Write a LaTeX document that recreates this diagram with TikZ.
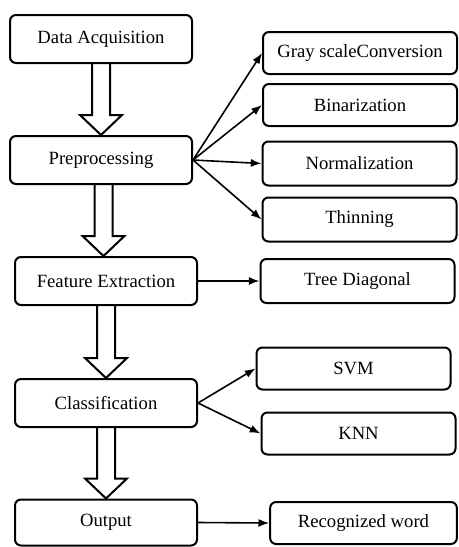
\documentclass[tikz,border=0pt]{standalone}
\usepackage{fontspec}
\setmainfont{Liberation Serif}
\usetikzlibrary{positioning,arrows.meta,calc}

% hollow block arrow from one step to the next
\newcommand{\fatarrow}[2]{%
  \draw[fatline] let \p1=(#1.south), \p2=(#2.north), \n1={(\x1+\x2)/2} in
    (\n1-6.75pt,\y1) -- (\n1-6.75pt,\y2+15pt) -- (\n1-15.75pt,\y2+15pt) -- (\n1,\y2)
    -- (\n1+15.75pt,\y2+15pt) -- (\n1+6.75pt,\y2+15pt) -- (\n1+6.75pt,\y1);}

\begin{document}
\begin{tikzpicture}[x=0.75pt,y=-0.75pt,
stepbox/.style={rectangle, draw=black, rounded corners=4.5pt, line width=1.5pt, minimum width=136.5pt, minimum height=36pt, inner sep=0pt, font=\fontsize{14}{16}\selectfont},
subbox/.style={stepbox, minimum width=145.5pt, minimum height=31.5pt},
fatline/.style={line width=1.5pt, line join=miter},
thinarrow/.style={-{Latex[length=8pt,width=6pt]}, line width=1.2pt},
]
\useasboundingbox (0,0) rectangle (458,547);

%Nodes
\node[stepbox]      (acq)   at (101,39)     {Data Acquisition};
\node[stepbox]      (pre)   at (101,160)    {Preprocessing};
\node[stepbox]      (feat)  at (106,281)    {Feature Extraction};
\node[stepbox]      (cls)   at (106,403)    {Classification};
\node[stepbox, minimum height=34.5pt] (out) at (106,522.5) {Output};

\node[subbox]       (gray)  at (360,53)     {Gray scaleConversion};
\node[subbox]       (bin)   at (360,105)    {Binarization};
\node[subbox, minimum height=33pt] (norm) at (359.5,163.5) {Normalization};
\node[subbox, minimum height=33pt] (thin) at (359.5,219.5) {Thinning};
\node[subbox, minimum height=33pt] (tree) at (357.5,281)   {Tree Diagonal};
\node[subbox]       (svm)   at (353.5,368.5)  {SVM};
\node[subbox]       (knn)   at (358.5,433.5)  {KNN};
\node[subbox, minimum width=140pt] (rec) at (363.5,523) {Recognized word};

%Lines
\fatarrow{acq}{pre}
\fatarrow{pre}{feat}
\fatarrow{feat}{cls}
\fatarrow{cls}{out}

\foreach \n in {gray,bin,norm,thin}
  \draw[thinarrow] (pre.east) -- (\n.west);
\draw[thinarrow] (feat.east) -- (tree.west);
\draw[thinarrow] (cls.east) -- (svm.west);
\draw[thinarrow] (cls.east) -- (knn.west);
\draw[thinarrow] (out.east) -- (rec.west);

\end{tikzpicture}
\end{document}
